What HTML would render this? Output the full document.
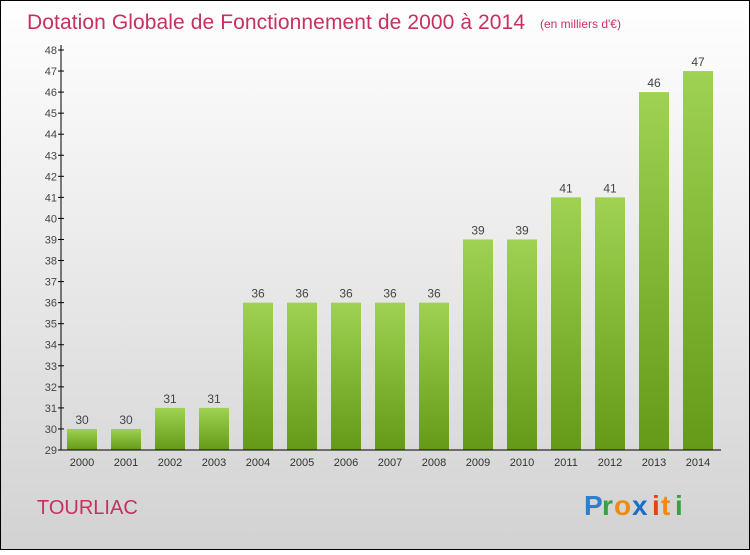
<!DOCTYPE html>
<html><head><meta charset="utf-8"><style>
body{margin:0}
svg text{font-family:"Liberation Sans",sans-serif}
</style></head><body>
<svg id="c" width="750" height="550" xmlns="http://www.w3.org/2000/svg">
<defs>
<linearGradient id="bg" x1="0" y1="0" x2="0" y2="1"><stop offset="0" stop-color="#ffffff"/><stop offset="1" stop-color="#d2d2d2"/></linearGradient>
<linearGradient id="bar" x1="0" y1="0" x2="0" y2="1"><stop offset="0" stop-color="#9fd252"/><stop offset="1" stop-color="#649a18"/></linearGradient>
</defs>
<rect x="0.5" y="0.5" width="749" height="549" fill="url(#bg)" stroke="#000"/>
<text x="27" y="29" font-size="21" fill="#c8305f" textLength="498">Dotation Globale de Fonctionnement de 2000 à 2014</text>
<text x="540" y="28" font-size="12" fill="#c8305f">(en milliers d'€)</text>
<g id="plot"></g>
<text x="37" y="514" font-size="20" fill="#c8305f">TOURLIAC</text>
<g font-size="28" font-weight="bold">
<text x="584" y="515" fill="#2a7fd0">P</text><text x="602" y="515" fill="#3aa040">r</text><text x="614" y="515" fill="#f08a10">o</text><text x="632" y="515" fill="#1a70c8">x</text><text x="652" y="515" fill="#e84010">i</text><text x="661" y="515" fill="#f08a10">t</text><text x="675" y="515" fill="#3aa040">i</text>
</g>
</svg>
<script>
const years=["2000","2001","2002","2003","2004","2005","2006","2007","2008","2009","2010","2011","2012","2013","2014"];
const values=[30,30,31,31,36,36,36,36,36,39,39,41,41,46,47];
const yTicks=[29,30,31,32,33,34,35,36,37,38,39,40,41,42,43,44,45,46,47,48];
const NS="http://www.w3.org/2000/svg";
const g=document.getElementById("plot");
const y0=450,y1=50,vmin=29,vmax=48;
const y=v=>y0-(v-vmin)*(y0-y1)/(vmax-vmin);
const x=i=>82+i*44;
function el(t,a){const e=document.createElementNS(NS,t);for(const k in a)e.setAttribute(k,a[k]);g.appendChild(e);return e;}
values.forEach((v,i)=>{
 const r=el("rect",{x:x(i)-15,y:y(v),width:30,height:y0-y(v),fill:"url(#bar)"});
 
 
 const t=el("text",{x:x(i),y:y(v)-5,"text-anchor":"middle","font-size":12,fill:"#444"});
 t.textContent=v;
 
 
 const xl=el("text",{x:x(i),y:466,"text-anchor":"middle","font-size":11,fill:"#333"});
 xl.textContent=years[i];
 
 
});
yTicks.forEach(v=>{
 const l=el("line",{x1:58,x2:64,y1:y(v),y2:y(v),stroke:"#000"});
 
 
 const t=el("text",{x:57,y:y(v)+4,"text-anchor":"end","font-size":11,fill:"#444"});
 t.textContent=v;
 
 
});
const ya=el("line",{x1:61,x2:61,y1:45,y2:450,stroke:"#000"});


const xa=el("line",{x1:61,x2:721,y1:450,y2:450,stroke:"#000"});


</script>
</body></html>
